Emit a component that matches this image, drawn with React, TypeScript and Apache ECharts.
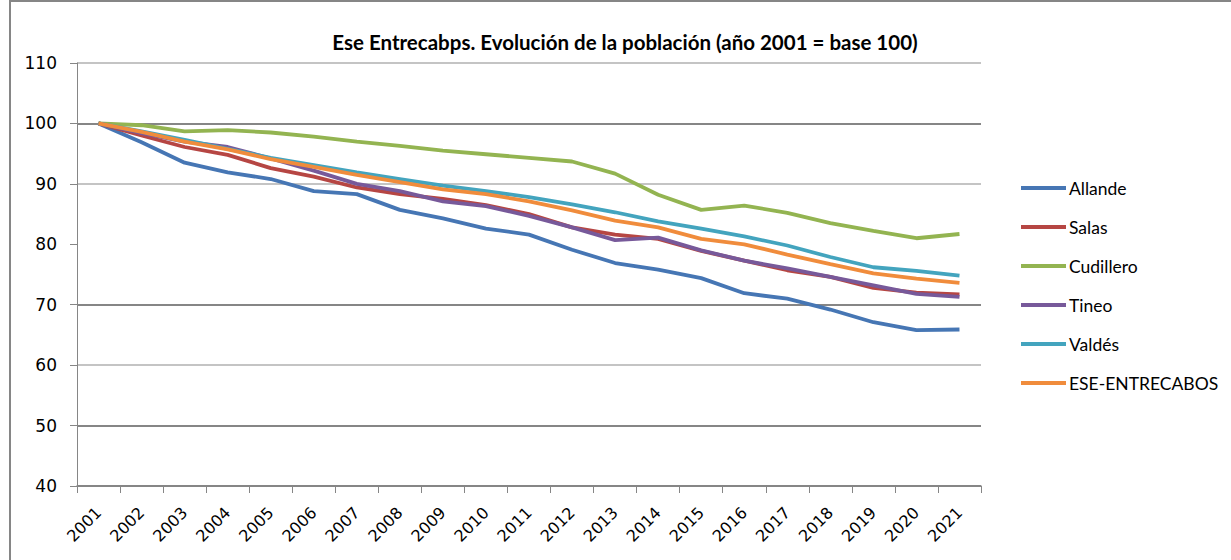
import React, { useEffect, useRef } from "react";
import * as echarts from "echarts";

const years = [
  "2001", "2002", "2003", "2004", "2005", "2006", "2007", "2008", "2009", "2010",
  "2011", "2012", "2013", "2014", "2015", "2016", "2017", "2018", "2019", "2020", "2021",
];

const allande = [100, 96.9, 93.5, 91.9, 90.8, 88.8, 88.3, 85.7, 84.3, 82.6, 81.6, 79.1, 76.9, 75.8, 74.4, 71.9, 71.0, 69.2, 67.1, 65.8, 65.9];
const salas = [100, 98.0, 96.1, 94.8, 92.6, 91.2, 89.4, 88.3, 87.5, 86.5, 85.0, 82.8, 81.6, 80.9, 78.9, 77.3, 75.7, 74.6, 72.8, 72.0, 71.7];
const cudillero = [100, 99.7, 98.7, 98.9, 98.5, 97.8, 97.0, 96.3, 95.5, 94.9, 94.3, 93.7, 91.7, 88.2, 85.7, 86.4, 85.2, 83.5, 82.2, 81.0, 81.7];
const tineo = [100, 98.4, 97.0, 96.1, 94.2, 92.2, 90.0, 88.8, 87.1, 86.3, 84.7, 82.8, 80.7, 81.1, 79.0, 77.3, 76.0, 74.6, 73.2, 71.8, 71.3];
const valdes = [100, 98.7, 97.3, 95.8, 94.3, 93.1, 91.9, 90.8, 89.7, 88.8, 87.8, 86.6, 85.3, 83.8, 82.6, 81.3, 79.8, 77.9, 76.2, 75.6, 74.8];
const eseEntrecabos = [100, 98.6, 97.0, 95.7, 94.1, 92.8, 91.5, 90.3, 89.1, 88.3, 87.1, 85.6, 83.9, 82.8, 80.9, 80.0, 78.3, 76.7, 75.2, 74.3, 73.6];

const seriesNames = ["Allande", "Salas", "Cudillero", "Tineo", "Valdés", "ESE-ENTRECABOS"];
const seriesData = [allande, salas, cudillero, tineo, valdes, eseEntrecabos];
const seriesColors = ["#4676B4", "#B64643", "#93B451", "#77599A", "#43A4BE", "#F08C3C"];

const titleText = "Ese Entrecabps. Evolución de la población (año 2001 = base 100)";
const yMin = 40;
const yMax = 110;
const yStep = 10;

export default function App() {
  const ref = useRef<HTMLDivElement>(null);

  useEffect(() => {
    if (!ref.current) return;
    const chart = echarts.init(ref.current, null, { renderer: "svg" });
    chart.setOption({
      animation: false,
      backgroundColor: "#ffffff",
      title: {
        text: titleText,
        left: 625,
        top: 31,
        padding: 0,
        textAlign: "center",
        textStyle: {
          fontFamily: "Lato",
          fontWeight: "bold",
          fontSize: 20.5,
          color: "#000000",
        },
      },
      graphic: [
        {
          type: "rect",
          shape: { x: 10, y: 1, width: 1400, height: 800 },
          style: { fill: "none", stroke: "#868686", lineWidth: 2 },
          silent: true,
          z: 100,
        },
      ],
      legend: {
        orient: "vertical",
        left: 1016,
        top: 173,
        icon: "rect",
        itemWidth: 45,
        itemHeight: 4,
        itemGap: 19,
        textStyle: {
          fontFamily: "Lato",
          fontSize: 17.5,
          color: "#000000",
          lineHeight: 20,
          padding: [0, 0, 0, -2],
        },
        data: seriesNames,
      },
      grid: {
        left: 77,
        right: 250,
        top: 63,
        bottom: 74,
        containLabel: false,
      },
      xAxis: {
        type: "category",
        data: years,
        boundaryGap: true,
        axisLine: { show: true, lineStyle: { color: "#868686", width: 1.5 } },
        axisTick: { show: true, length: 7, lineStyle: { color: "#868686", width: 1 } },
        splitLine: { show: false },
        axisLabel: {
          interval: 0,
          rotate: 45,
          margin: 24,
          fontFamily: "DejaVu Sans",
          fontSize: 16,
          color: "#000000",
        },
      },
      yAxis: {
        type: "value",
        min: yMin,
        max: yMax,
        interval: yStep,
        axisLine: { show: true, lineStyle: { color: "#868686", width: 1 } },
        axisTick: { show: true, length: 7, lineStyle: { color: "#868686", width: 1 } },
        axisLabel: {
          margin: 20,
          fontFamily: "DejaVu Sans",
          fontSize: 17,
          color: "#000000",
        },
        splitLine: {
          show: true,
          lineStyle: {
            width: 2,
            color: [
              "#868686",
              "#868686",
              "#c4c4c4",
              "#868686",
              "rgba(0,0,0,0)",
              "#c4c4c4",
              "#868686",
              "#c4c4c4",
            ],
          },
        },
      },
      series: seriesNames.map((name, i) => ({
        name,
        type: "line",
        data: seriesData[i],
        showSymbol: false,
        symbol: "none",
        color: seriesColors[i],
        lineStyle: { color: seriesColors[i], width: 3.8 },
      })),
    });
    return () => chart.dispose();
  }, []);

  return (
    <div
      ref={ref}
      style={{ position: "absolute", left: 0, top: 0, width: 1231, height: 560, background: "#ffffff" }}
    />
  );
}
